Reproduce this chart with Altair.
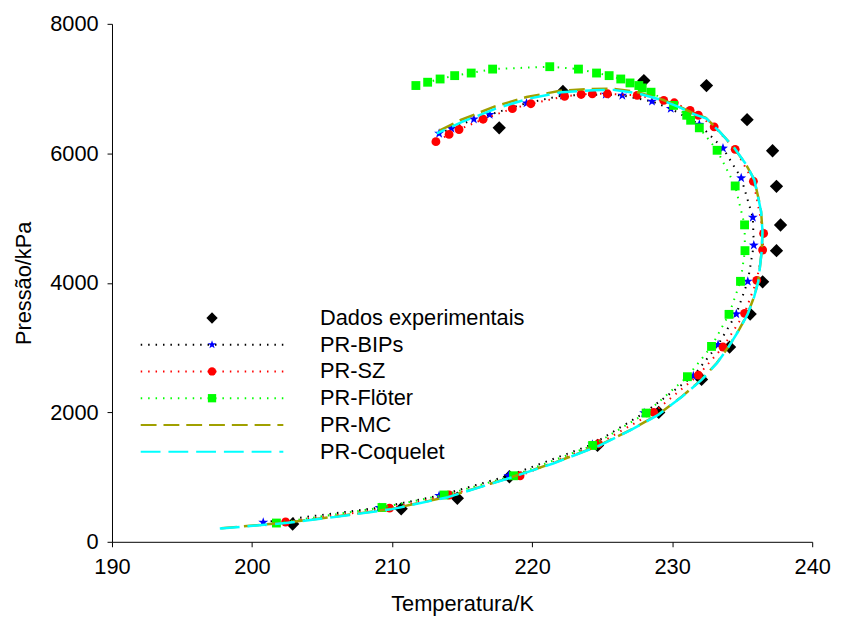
import altair as alt
import pandas as pd

# ---------------- data ----------------
exp_T = [202.9, 210.65, 214.66, 218.38, 224.67, 229.04, 232.1, 234.1, 235.57, 236.46,
         237.45, 237.74, 237.45, 237.17, 235.35, 232.45, 227.98, 222.2, 217.65]
exp_P = [275, 509, 673, 1005, 1488, 1998, 2508, 3008, 3518, 4015,
         4497, 4893, 5490, 6040, 6520, 7046, 7123, 6955, 6394]

bips_T = [200.8, 209.1, 213.36, 218.31, 224.3, 228.0, 231.51, 233.28, 234.58, 235.4,
          235.83, 235.76, 234.93, 233.63, 231.94, 229.9, 228.56, 226.44, 225.26, 222.2,
          219.6, 216.97, 215.84, 214.24, 213.36]
bips_P = [301, 528, 714, 1020, 1505, 1990, 2560, 3044, 3518, 4023,
          4580, 5010, 5619, 6078, 6445, 6690, 6802, 6894, 6909, 6894,
          6776, 6597, 6527, 6383, 6307]

sz_T = [202.4, 209.82, 214.07, 219.14, 224.75, 228.68, 231.87, 233.63, 235.17, 236.04,
        236.46, 236.53, 235.8, 234.5, 233.0, 231.87, 231.28, 230.15, 229.4, 227.5,
        225.38, 224.3, 223.5, 222.32, 219.91, 218.59, 216.5, 214.78, 214.07, 213.13]
sz_P = [306, 520, 723, 1020, 1514, 2000, 2575, 3008, 3529, 4038,
        4507, 4762, 5568, 6062, 6409, 6588, 6664, 6781, 6817, 6894,
        6920, 6920, 6909, 6879, 6766, 6690, 6527, 6368, 6292, 6180]

floter_T = [201.74, 209.28, 213.72, 218.67, 224.32, 228.14, 231.09, 232.81, 234.06, 234.88,
            235.2, 235.17, 234.5, 233.21, 231.94, 231.32, 231.04, 230.1, 228.49, 227.86,
            227.62, 226.99, 226.33, 225.5, 224.6, 223.31, 221.26, 217.18, 215.65, 214.47,
            213.43, 212.54, 211.7]
floter_P = [290, 530, 723, 1020, 1488, 1988, 2550, 3018, 3513, 4023,
            4497, 4895, 5496, 6047, 6394, 6511, 6588, 6740, 6944, 7010,
            7047, 7087, 7148, 7200, 7240, 7301, 7338, 7301, 7240, 7200,
            7148, 7098, 7047]

mc_T = [197.8, 202.4, 206.0, 210.0, 214.0, 218.4, 221.5, 224.7, 227.0, 229.0,
        230.7, 232.1, 233.2, 234.0, 234.8, 235.4, 235.85, 236.15, 236.4, 236.45,
        236.35, 236.2, 235.85, 235.25, 234.4, 233.35, 232.4, 231.45, 230.45, 228.9,
        227.4, 225.7, 224.3, 222.0, 219.6, 217.3, 214.9, 213.2]
mc_P = [210, 295, 390, 510, 695, 990, 1215, 1480, 1725, 1965,
        2245, 2505, 2765, 3005, 3285, 3525, 3785, 4025, 4500, 4800,
        5100, 5270, 5600, 5835, 6090, 6345, 6550, 6625, 6730, 6860,
        6950, 7000, 6995, 6965, 6870, 6720, 6515, 6330]

coq_T = [197.7, 202.4, 206.0, 210.0, 214.0, 218.4, 221.5, 224.7, 227.0, 229.0,
         230.7, 232.1, 233.2, 234.0, 234.8, 235.4, 235.85, 236.15, 236.4, 236.45,
         236.35, 236.2, 235.87, 235.3, 234.46, 233.4, 232.45, 231.5, 230.5, 229.0,
         227.5, 225.8, 224.4, 222.1, 219.7, 217.4, 215.0, 213.2]
coq_P = [204, 290, 385, 505, 690, 985, 1210, 1475, 1720, 1960,
         2240, 2500, 2760, 3000, 3280, 3520, 3780, 4020, 4500, 4800,
         5100, 5260, 5590, 5823, 6078, 6330, 6535, 6610, 6715, 6840,
         6930, 6980, 6975, 6944, 6842, 6690, 6485, 6307]

x_ticks = [190, 200, 210, 220, 230, 240]
y_ticks = [0, 2000, 4000, 6000, 8000]

legend_labels = ["Dados experimentais", "PR-BIPs", "PR-SZ", "PR-Flöter", "PR-MC", "PR-Coquelet"]

# ---------------- styles ----------------
FONT = "Liberation Sans"
FS = 22
BLACK = "#000000"
BLUE = "#0000FF"
RED = "#FF0000"
GREEN = "#00FF00"
OLIVE = "#A0A000"
CYAN = "#00FFFF"
DOT = [1.5, 6]
STAR = ("M0,-1L0.235,-0.324L0.951,-0.309L0.38,0.124L0.588,0.809L0,0.4"
        "L-0.588,0.809L-0.38,0.124L-0.951,-0.309L-0.235,-0.324Z")


def frame(T, P):
    return pd.DataFrame({"T": T, "P": P, "i": list(range(len(T)))})


X = alt.X("T:Q", scale=alt.Scale(domain=[190, 240], nice=False, zero=False),
          axis=alt.Axis(values=x_ticks, title="Temperatura/K", format="d"))
Y = alt.Y("P:Q", scale=alt.Scale(domain=[0, 8000], nice=False, zero=False),
          axis=alt.Axis(values=y_ticks, title="Pressão/kPa", format="d"))


def line(T, P, color, dash, width=2):
    return alt.Chart(frame(T, P)).mark_line(color=color, strokeDash=dash, strokeWidth=width).encode(
        x=X, y=Y, order="i:Q")


def pts(T, P, shape, color, size):
    return alt.Chart(frame(T, P)).mark_point(shape=shape, filled=True, color=color, size=size,
                                             opacity=1, strokeWidth=0).encode(x=X, y=Y)


layers = [
    pts(exp_T, exp_P, "diamond", BLACK, 180),
    line(bips_T, bips_P, BLACK, DOT),
    pts(bips_T, bips_P, STAR, BLUE, 110),
    line(sz_T, sz_P, RED, DOT),
    pts(sz_T, sz_P, "circle", RED, 80),
    line(floter_T, floter_P, GREEN, DOT),
    pts(floter_T, floter_P, "square", GREEN, 80),
    line(mc_T, mc_P, OLIVE, [16, 7], 2.5),
    line(coq_T, coq_P, CYAN, [20, 8], 2.5),
]

# ---------------- custom legend (pixel layout inside plot) ----------------
leg_styles = [
    (None, None, "diamond", BLACK, 130),
    (BLACK, DOT, STAR, BLUE, 80),
    (RED, DOT, "circle", RED, 70),
    (GREEN, DOT, "square", GREEN, 70),
    (OLIVE, [16, 7], None, None, None),
    (CYAN, [20, 8], None, None, None),
]
LY0, LDY = 297, 27
LX1, LX2, LXM, LXT = 29, 173, 101, 210
for k, (label, (lc, ld, sh, sc, ss)) in enumerate(zip(legend_labels, leg_styles)):
    yv = LY0 + LDY * k
    d = alt.Data(values=[{"label": label}])
    if lc is not None:
        layers.append(alt.Chart(d).mark_rule(color=lc, strokeDash=ld, strokeWidth=2).encode(
            x=alt.value(LX1), x2=alt.value(LX2), y=alt.value(yv)))
    if sh is not None:
        layers.append(alt.Chart(d).mark_point(shape=sh, filled=True, color=sc, size=ss,
                                              opacity=1, strokeWidth=0).encode(
            x=alt.value(LXM), y=alt.value(yv)))
    layers.append(alt.Chart(d).mark_text(align="left", baseline="middle", font=FONT, fontSize=FS,
                                         color=BLACK).encode(
        x=alt.value(LXT), y=alt.value(yv), text="label:N"))

chart = alt.layer(*layers).properties(
    width=707, height=523,
    autosize=alt.AutoSizeParams(type="none"),
    padding={"left": 105, "top": 13, "right": 21, "bottom": 80},
).configure_view(stroke=None).configure_axis(
    grid=False, domainColor=BLACK, tickColor=BLACK, labelColor=BLACK, titleColor=BLACK,
    labelFont=FONT, titleFont=FONT, labelFontSize=FS, titleFontSize=FS, titleFontWeight="normal",
    tickSize=5, domainWidth=1, tickWidth=1, labelFlush=False, labelOverlap=False,
).configure_axisX(labelPadding=10, titlePadding=16).configure_axisY(labelPadding=9, titlePadding=14)

chart.save("out.html", embed_options={"renderer": "svg", "actions": False})
